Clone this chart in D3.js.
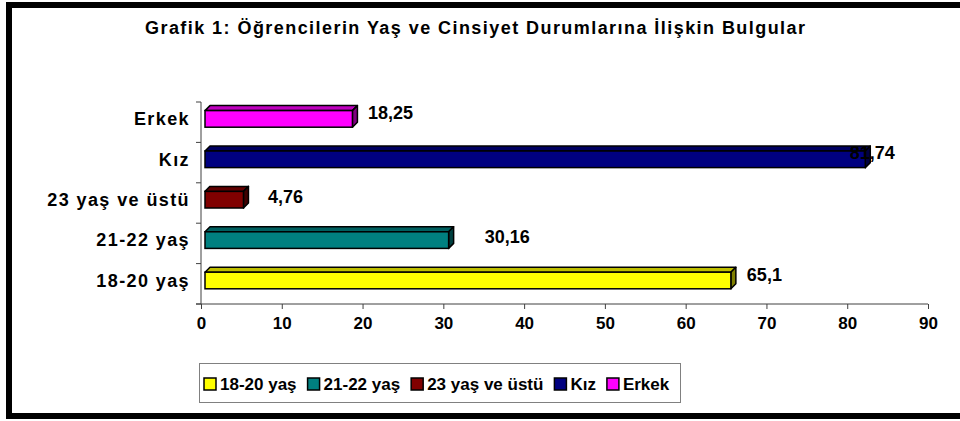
<!DOCTYPE html>
<html>
<head>
<meta charset="utf-8">
<script src="https://cdn.jsdelivr.net/npm/d3@7"></script>
<style>
  body { margin: 0; background: #fff; }
  svg { display: block; font-family: "Liberation Sans", Arial, sans-serif; font-weight: bold; }
</style>
</head>
<body>
<svg id="chart"></svg>
<script>
// chart data
const title = 'Grafik 1: Öğrencilerin Yaş ve Cinsiyet Durumlarına İlişkin Bulgular';
const categories = ['18-20 yaş', '21-22 yaş', '23 yaş ve üstü', 'Kız', 'Erkek'];
const values = [65.1, 30.16, 4.76, 81.74, 18.25];
const valueLabels = ['65,1', '30,16', '4,76', '81,74', '18,25'];
const xTicks = [0, 10, 20, 30, 40, 50, 60, 70, 80, 90];

// styling
const colors = ['#FFFF00', '#008080', '#800000', '#000080', '#FF00FF'];
// where excel dropped each value label, relative to the bar end / face centre
const labelNudge = [[16, -5.5], [36, -3], [24.5, -3], [-15.5, -6.5], [15.5, -6]];

const width = 960;
const height = 421;
const depth = 5;      // 3d offset of the bars
const shift = 4;      // front face sits a little off the axis
const faceTop = 8.6;
const faceH = 16.6;

const svg = d3.select('#chart').attr('width', width).attr('height', height);

// frame (top, left, bottom)
svg.append('rect').attr('x', 6).attr('y', 2).attr('width', width - 6).attr('height', 6).attr('fill', '#000');
svg.append('rect').attr('x', 6).attr('y', 2).attr('width', 6).attr('height', 417).attr('fill', '#000');
svg.append('rect').attr('x', 6).attr('y', 413).attr('width', width - 6).attr('height', 6).attr('fill', '#000');

svg.append('text')
  .attr('x', 145)
  .attr('y', 34)
  .attr('textLength', 660)
  .attr('lengthAdjust', 'spacing')
  .style('font-size', '18px')
  .text(title);

const x = d3.scaleLinear().domain([0, 90]).range([201, 928]);
const y = d3.scaleBand().domain(categories.slice().reverse()).range([102, 304]);

// x axis
const xAxis = svg.append('g')
  .attr('transform', `translate(0, ${y.range()[1]})`)
  .call(d3.axisBottom(x).tickValues(xTicks).tickSize(5).tickSizeOuter(0).tickPadding(8));
xAxis.select('.domain').attr('stroke', '#404040').attr('d', `M196,0H${x(90)}`);
xAxis.selectAll('.tick line').attr('stroke', '#404040');
xAxis.selectAll('.tick text')
  .attr('fill', '#000')
  .style('font-size', '17px')
  .style('font-family', '"Liberation Sans", Arial, sans-serif')
  .style('font-weight', 'bold');

// y axis with ticks on band edges
const yEdges = categories.map(c => y(c)).concat([y.range()[1]]);
svg.append('line')
  .attr('x1', x(0)).attr('x2', x(0))
  .attr('y1', y.range()[0]).attr('y2', y.range()[1])
  .attr('stroke', '#404040');
svg.selectAll('.ytick')
  .data(yEdges)
  .enter()
  .append('line')
  .attr('x1', x(0) - 5).attr('x2', x(0))
  .attr('y1', d => d).attr('y2', d => d)
  .attr('stroke', '#404040');

svg.selectAll('.cat')
  .data(categories)
  .enter()
  .append('text')
  .attr('x', 190)
  .attr('y', d => y(d) + faceTop + faceH / 2)
  .attr('dy', '0.35em')
  .attr('text-anchor', 'end')
  .style('font-size', '18px')
  .style('letter-spacing', '1.4px')
  .text(d => d);

const shade = (c, k) => {
  const r = d3.rgb(c);
  return d3.rgb(r.r * k, r.g * k, r.b * k).formatHex();
};

const bars = svg.selectAll('.bar')
  .data(categories.map((c, i) => ({ c, v: values[i], color: colors[i], label: valueLabels[i], nudge: labelNudge[i] })))
  .enter()
  .append('g');

bars.each(function (d) {
  const g = d3.select(this);
  const x0 = x(0) + shift;
  const x1 = x(d.v) + shift;
  const y0 = y(d.c) + faceTop;
  const y1 = y0 + faceH;

  g.append('path')
    .attr('d', `M${x0},${y0}L${x0 + depth},${y0 - depth}L${x1 + depth},${y0 - depth}L${x1},${y0}Z`)
    .attr('fill', shade(d.color, 0.75))
    .attr('stroke', '#000')
    .attr('stroke-width', 1.5)
    .attr('stroke-linejoin', 'round');

  g.append('path')
    .attr('d', `M${x1},${y0}L${x1 + depth},${y0 - depth}L${x1 + depth},${y1 - depth}L${x1},${y1}Z`)
    .attr('fill', shade(d.color, 0.5))
    .attr('stroke', '#000')
    .attr('stroke-width', 1.5)
    .attr('stroke-linejoin', 'round');

  g.append('rect')
    .attr('x', x0)
    .attr('y', y0)
    .attr('width', x1 - x0)
    .attr('height', faceH)
    .attr('fill', d.color)
    .attr('stroke', '#000')
    .attr('stroke-width', 1.5);
});

bars.append('text')
  .attr('x', d => x(d.v) + shift + d.nudge[0])
  .attr('y', d => y(d.c) + faceTop + faceH / 2 + d.nudge[1])
  .attr('dy', '0.35em')
  .style('font-size', '18px')
  .text(d => d.label);

// legend
const legend = svg.append('g');
legend.append('rect')
  .attr('x', 199.5).attr('y', 363.5)
  .attr('width', 481).attr('height', 39)
  .attr('fill', '#fff')
  .attr('stroke', '#808080');

let lx = 204;
categories.forEach((c, i) => {
  legend.append('rect')
    .attr('x', lx).attr('y', 378)
    .attr('width', 12).attr('height', 12)
    .attr('fill', colors[i])
    .attr('stroke', '#000')
    .attr('stroke-width', 1.5);
  const t = legend.append('text')
    .attr('x', lx + 16)
    .attr('y', 390)
    .style('font-size', '17px')
    .text(c);
  lx += 16 + t.node().getComputedTextLength() + 11;
});
</script>
</body>
</html>
